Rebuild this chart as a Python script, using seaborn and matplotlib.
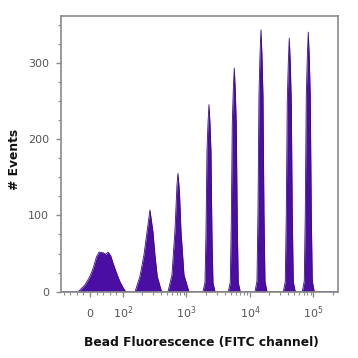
import matplotlib
matplotlib.use('Agg')
import matplotlib.pyplot as plt
import pandas as pd
import seaborn as sns
from matplotlib.ticker import FixedLocator, NullFormatter

# Histogram outline (fluorescence value, # events)
fluorescence = [
    -88,
    # broad (unstained) peak
    -35.5, -15, 0, 10, 20, 28, 40, 48, 55, 63, 71, 81, 91, 101, 111,
    # peak 2
    155, 185, 214, 239, 266, 297, 319, 347, 406,
    # peak 3
    512, 591, 659, 709, 735, 776, 819, 914, 1094,
    # peak 4
    1819, 1956, 2028, 2103, 2181, 2262, 2345, 2431, 2521, 2614, 2811,
    # peak 5
    4552, 4896, 5076, 5264, 5458, 5659, 5869, 6085, 6310, 6543, 7036,
    # peak 6
    11988, 12889, 13366, 13857, 14370, 14900, 15452, 16020, 16614, 17225, 18523,
    # peak 7
    33450, 35960, 37290, 38670, 40100, 41580, 43120, 44710, 46370, 48080, 51700,
    # peak 8
    66620, 71630, 74280, 77010, 79870, 82810, 85880, 89040, 92350, 95740, 102940,
    243000,
]
events = [
    0,
    0, 9, 20, 31, 46, 52, 51, 49, 52, 47, 36, 24, 13, 5, 0,
    0, 20, 48, 78, 107, 78, 48, 20, 0,
    0, 22, 80, 140, 155, 130, 80, 22, 0,
    0, 12, 74, 184, 220, 245, 220, 184, 74, 12, 0,
    0, 12, 88, 220, 264, 293, 264, 220, 88, 12, 0,
    0, 14, 103, 257, 309, 343, 309, 257, 103, 14, 0,
    0, 13, 100, 249, 299, 332, 299, 249, 100, 13, 0,
    0, 14, 102, 255, 306, 340, 306, 255, 102, 14, 0,
    0,
]

xtick_values = [0, 1e2, 1e3, 1e4, 1e5]
xtick_labels = ['0', '$10^{2}$', '$10^{3}$', '$10^{4}$', '$10^{5}$']
xminor_linear = [-80, -60, -40, -20, 20, 40, 60, 80]
ytick_values = [0, 100, 200, 300]
yminor_values = [25, 50, 75, 125, 150, 175, 225, 250, 275, 325, 350]

x_label = 'Bead Fluorescence (FITC channel)'
y_label = '# Events'

sns.set_style('ticks')
plt.rcParams['font.family'] = ['DejaVu Sans']
plt.rcParams['mathtext.default'] = 'regular'

fill_color = '#4a0fa2'
edge_color = '#3a0b85'
frame_color = '#8a8a8a'
tick_text = '#555555'

df = pd.DataFrame({'fluorescence': fluorescence, 'events': events})

fig = plt.figure(figsize=(3.58, 3.58), dpi=100)
ax = fig.add_axes([0.170, 0.183, 0.774, 0.772])
ax.set_xscale('symlog', linthresh=100, linscale=0.468)

ax.fill_between(df['fluorescence'], df['events'], 0, color=fill_color, lw=0)
sns.lineplot(data=df, x='fluorescence', y='events', estimator=None, sort=False,
             color=edge_color, lw=0.6, ax=ax)

ax.set_xlim(-88, 243000)
ax.set_ylim(-1, 361)

minor_x = list(xminor_linear)
for d in range(2, 6):
    for k in range(2, 10):
        v = k * 10 ** d
        if v <= 243000:
            minor_x.append(v)

ax.xaxis.set_major_locator(FixedLocator(xtick_values))
ax.set_xticklabels(xtick_labels)
ax.xaxis.set_minor_locator(FixedLocator(minor_x))
ax.xaxis.set_minor_formatter(NullFormatter())
ax.yaxis.set_major_locator(FixedLocator(ytick_values))
ax.set_yticklabels([str(v) for v in ytick_values])
ax.yaxis.set_minor_locator(FixedLocator(yminor_values))
ax.yaxis.set_minor_formatter(NullFormatter())

for s in ax.spines.values():
    s.set_color(frame_color)
    s.set_linewidth(1.2)
    s.set_visible(True)

ax.tick_params(axis='both', which='major', direction='out', length=3.5, width=1,
               color=frame_color, labelcolor=tick_text, labelsize=8)
ax.tick_params(axis='both', which='minor', direction='out', length=2, width=0.8,
               color=frame_color)
ax.tick_params(axis='y', which='major', pad=5)
ax.tick_params(axis='x', which='major', pad=14.5)
for lbl in ax.get_xticklabels():
    lbl.set_verticalalignment('baseline')

ax.set_xlabel(x_label, fontsize=8.8, fontweight='bold', color='#111111', va='center')
ax.set_ylabel(y_label, fontsize=8.8, fontweight='bold', color='#111111', va='center')
ax.xaxis.set_label_coords(0.507, -0.181)
ax.yaxis.set_label_coords(-0.166, 0.482)

fig.savefig('out.png', dpi=100)
